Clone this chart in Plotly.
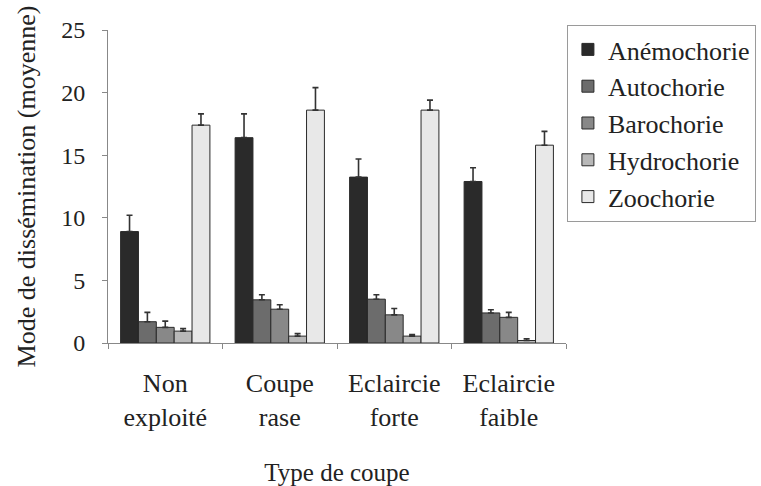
import plotly.graph_objects as go

categories = ["Non<br>exploité", "Coupe<br>rase", "Eclaircie<br>forte", "Eclaircie<br>faible"]
series_names = ["Anémochorie", "Autochorie", "Barochorie", "Hydrochorie", "Zoochorie"]

anemochorie = [8.9, 16.4, 13.25, 12.9]
autochorie = [1.7, 3.45, 3.5, 2.4]
barochorie = [1.25, 2.7, 2.25, 2.05]
hydrochorie = [0.95, 0.55, 0.55, 0.2]
zoochorie = [17.4, 18.6, 18.6, 15.8]

err_anemochorie = [1.3, 1.9, 1.45, 1.1]
err_autochorie = [0.75, 0.4, 0.35, 0.25]
err_barochorie = [0.5, 0.35, 0.5, 0.4]
err_hydrochorie = [0.2, 0.2, 0.12, 0.14]
err_zoochorie = [0.9, 1.8, 0.8, 1.1]

values = [anemochorie, autochorie, barochorie, hydrochorie, zoochorie]
errors = [err_anemochorie, err_autochorie, err_barochorie, err_hydrochorie, err_zoochorie]
colors = ["#2a2a2a", "#6c6c6c", "#888888", "#b8b8b8", "#e8e8e8"]

font_family = "Liberation Serif, Times New Roman, serif"

fig = go.Figure()
for name, vals, errs, col in zip(series_names, values, errors, colors):
    fig.add_trace(go.Bar(
        name=name,
        x=categories,
        y=vals,
        marker=dict(color=col, line=dict(color="#2a2a2a", width=1)),
        error_y=dict(type="data", symmetric=False, array=errs,
                     arrayminus=[0] * len(errs),
                     color="#333333", thickness=1.6, width=3),
    ))

fig.update_layout(
    width=761, height=486,
    margin=dict(l=108, r=195, t=30, b=143, autoexpand=False),
    paper_bgcolor="white", plot_bgcolor="white",
    barmode="group", bargap=0.22, bargroupgap=0,
    font=dict(family=font_family, size=26, color="#222222"),
    showlegend=True,
    legend=dict(
        x=1.002, y=1.016, xanchor="left", yanchor="top",
        bordercolor="#9a9a9a", borderwidth=1, bgcolor="white",
        font=dict(family=font_family, size=26, color="#222222"),
        itemwidth=30, tracegroupgap=4,
    ),
)

fig.update_xaxes(
    showline=True, linecolor="#888888", linewidth=1, automargin=False,
    ticks="outside", tickson="boundaries", ticklen=5, tickcolor="#888888",
    tickfont=dict(family=font_family, size=26), ticklabelstandoff=17,
    title=dict(text="Type de coupe", font=dict(family=font_family, size=25), standoff=36),
    showgrid=False,
)
fig.update_yaxes(
    range=[0, 25], dtick=5, automargin=False,
    showline=True, linecolor="#888888", linewidth=1,
    ticks="outside", ticklen=5, tickcolor="#888888",
    tickfont=dict(family=font_family, size=24), ticklabelstandoff=12,
    title=dict(text="Mode de dissémination (moyenne)", font=dict(family=font_family, size=26), standoff=18),
    showgrid=False, zeroline=False,
)

fig.write_html("out.html")
